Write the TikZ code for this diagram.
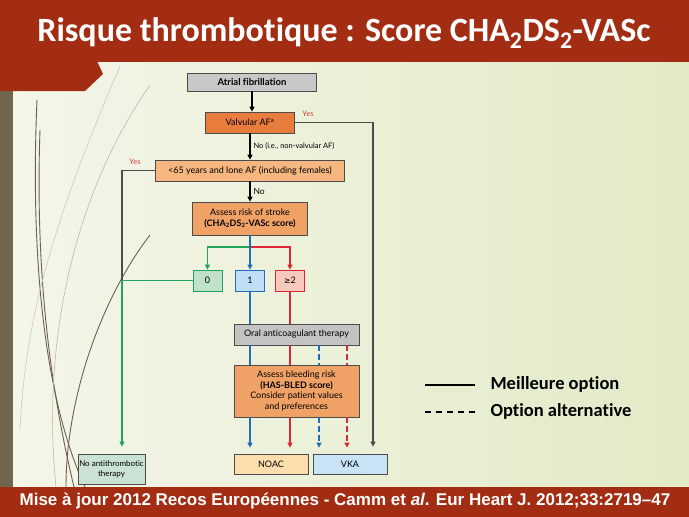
\documentclass[tikz,border=0pt]{standalone}
\usepackage{fontspec}
\setmainfont{Carlito}[Ligatures=NoCommon]
\newfontfamily\flowfont{Lato}[Ligatures=NoCommon]
\newfontfamily\footfont{Liberation Sans}
\newfontfamily\symfont{DejaVu Sans}
\usetikzlibrary{arrows.meta}
\definecolor{bandred}{RGB}{163,45,19}
\definecolor{stripbrown}{RGB}{112,102,78}
\definecolor{grass}{RGB}{110,96,76}
\definecolor{bgleft}{RGB}{244,246,234}
\definecolor{bgright}{RGB}{226,234,198}
\definecolor{afgray}{RGB}{200,200,200}
\definecolor{valvorange}{RGB}{232,124,60}
\definecolor{loneorange}{RGB}{245,182,128}
\definecolor{riskorange}{RGB}{240,162,102}
\definecolor{zerofill}{RGB}{192,226,203}
\definecolor{onefill}{RGB}{192,222,245}
\definecolor{twofill}{RGB}{246,200,190}
\definecolor{noacfill}{RGB}{252,222,172}
\definecolor{vkafill}{RGB}{200,226,246}
\definecolor{nonefill}{RGB}{202,226,212}
\definecolor{lgreen}{RGB}{30,165,90}
\definecolor{lblue}{RGB}{30,110,185}
\definecolor{lred}{RGB}{220,40,50}
\definecolor{lgray}{RGB}{75,75,75}
\definecolor{yesred}{RGB}{215,60,60}
\begin{document}
\begin{tikzpicture}[x=1pt,y=-1pt,
    box/.style={draw=black!70,line width=0.8pt,inner sep=0pt,align=center,
      font=\flowfont\fontsize{9}{10.5}\selectfont},
    link/.style={line width=1.1pt},
    arr/.style={link,-{Triangle[length=5pt,width=5pt]}},
    alt/.style={dash pattern=on 6pt off 3pt},
    lab/.style={font=\flowfont\fontsize{7.5}{9}\selectfont,inner sep=1pt}]
  \useasboundingbox (0,0) rectangle (689,517);
  % slide background
  \shade[left color=bgleft,right color=bgright] (0,0) rectangle (689,517);
  \fill[stripbrown] (0,91) rectangle (13,487);
  \begin{scope}[grass,line width=0.9pt]
    \draw (37,100) .. controls (30,260) and (45,400) .. (85,487);
    \draw (40,130) .. controls (34,300) and (58,420) .. (74,487);
    \draw (150,235) .. controls (100,300) and (66,400) .. (66,487);
    \draw[grass!45,line width=0.6pt] (150,85) .. controls (70,200) and (42,350) .. (56,487);
    \draw[grass!35,line width=0.6pt] (120,66) .. controls (45,240) and (25,330) .. (20,430);
  \end{scope}
  \fill[bandred] (0,0) rectangle (689,62);
  \fill[bandred] (0,61) -- (97,61) -- (103,74) -- (85,91) -- (0,91) -- cycle;
  \fill[bandred] (0,487) rectangle (689,517);
  \node[white,font=\bfseries\fontsize{34}{38}\selectfont] (title) at (344,33)
    {Risque thrombotique : Score CHA\textsubscript{2}DS\textsubscript{2}-VASc};
  \node[white,font=\footfont\bfseries\fontsize{17}{20}\selectfont] (foot) at (345,501)
    {Mise à jour 2012 Recos Européennes - Camm et \textit{al}. Eur Heart J. 2012;33:2719–47};

  % flowchart
  \node[box,fill=afgray,minimum width=129pt,minimum height=18pt,font=\flowfont\bfseries\fontsize{9.5}{11}\selectfont]
    (af) at (252,82) {Atrial fibrillation};
  \node[box,fill=valvorange,minimum width=89pt,minimum height=21pt] (valv) at (250,122.5)
    {Valvular AF\textsuperscript{a}};
  \node[box,fill=loneorange,minimum width=189pt,minimum height=21pt] (lone) at (250,170.5)
    {<65 years and lone AF (including females)};
  \node[box,fill=riskorange,minimum width=115pt,minimum height=33pt] (stroke) at (250,218.5)
    {Assess risk of stroke\\\textbf{(CHA\textsubscript{2}DS\textsubscript{2}-VASc score)}};
  \node[box,draw=lgreen,fill=zerofill,minimum width=29pt,minimum height=21pt] (s0) at (207.5,280.5) {0};
  \node[box,draw=lblue,fill=onefill,minimum width=29pt,minimum height=21pt] (s1) at (250,280.5) {1};
  \node[box,draw=lred,fill=twofill,minimum width=29pt,minimum height=21pt] (s2) at (290,280.5)
    {{\symfont\fontsize{8}{9}\selectfont ≥}2};
  \node[box,fill=afgray!110,minimum width=125pt,minimum height=21pt] (oral) at (296.5,334.5)
    {Oral anticoagulant therapy};
  \node[box,fill=riskorange,minimum width=125pt,minimum height=52pt] (bleed) at (296.5,391)
    {Assess bleeding risk\\\textbf{(HAS-BLED score)}\\Consider patient values\\and preferences};
  \node[box,fill=noacfill,minimum width=74pt,minimum height=20pt] (noac) at (271,464) {NOAC};
  \node[box,fill=vkafill,minimum width=74pt,minimum height=20pt] (vka) at (350,464) {VKA};
  \node[box,fill=nonefill,minimum width=67pt,minimum height=30pt,font=\flowfont\fontsize{8}{9.5}\selectfont]
    (none) at (111.5,469) {No antithrombotic\\therapy};

  \coordinate (fork) at (250,247);
  \coordinate (join) at (122,280.5);

  \draw[arr] (af.south |- af.south) -- (af.south |- valv.north);
  \draw[arr] (valv) -- (lone) node[lab,midway,right=2pt] {No (i.e., non-valvular AF)};
  \draw[arr] (lone) -- (stroke) node[lab,midway,right=2pt,font=\flowfont\fontsize{8.5}{10}\selectfont] {No};
  \draw[arr,lgray] (valv.east) -| ([xshift=23pt,yshift=7pt]vka.north);
  \node[lab,yesred] (yes1) at (308,114) {Yes};
  \draw[link,lgray] (lone.west) -| (join);
  \node[lab,yesred] (yes2) at (135,162) {Yes};

  \draw[arr,lgreen] (fork) -| (s0.north);
  \draw[arr,lred] (fork) -| (s2.north);
  \draw[arr,lblue] (stroke.south) -- (s1.north);
  \draw[arr,lgreen] (s0.west) -- (join) -- ([yshift=7pt]join |- none.north);

  \draw[link,lblue] (s1.south) -- (s1.south |- oral.north);
  \draw[link,lred] (s2.south) -- (s2.south |- oral.north);
  \draw[link,lblue] (oral.south -| s1) -- (bleed.north -| s1);
  \draw[link,lred] (oral.south -| s2) -- (bleed.north -| s2);
  \draw[link,lblue,alt] ([xshift=-31pt]oral.south -| vka) -- ([xshift=-31pt]bleed.north -| vka);
  \draw[link,lred,alt] ([xshift=-3pt]oral.south -| vka) -- ([xshift=-3pt]bleed.north -| vka);

  \draw[arr,lblue] (bleed.south -| s1) -- ([yshift=6pt]noac.north -| s1);
  \draw[arr,lred] (bleed.south -| s2) -- ([yshift=6pt]noac.north -| s2);
  \draw[arr,lblue,alt] ([xshift=-31pt]bleed.south -| vka) -- ([xshift=-31pt,yshift=6pt]vka.north);
  \draw[arr,lred,alt] ([xshift=-3pt]bleed.south -| vka) -- ([xshift=-3pt,yshift=6pt]vka.north);

  % legend
  \coordinate (best0) at (425,385);
  \coordinate (best1) at (475,385);
  \coordinate (alt0) at (425,412);
  \coordinate (alt1) at (475,412);
  \draw[line width=1.4pt] (best0) -- (best1);
  \draw[line width=1.4pt,dash pattern=on 6pt off 5pt] (alt0) -- (alt1);
  \node[anchor=west,font=\bfseries\fontsize{18.5}{21}\selectfont] (best) at (487,384) {Meilleure option};
  \node[anchor=west,font=\bfseries\fontsize{18.5}{21}\selectfont] (alt) at (487,411) {Option alternative};
\end{tikzpicture}
\end{document}
